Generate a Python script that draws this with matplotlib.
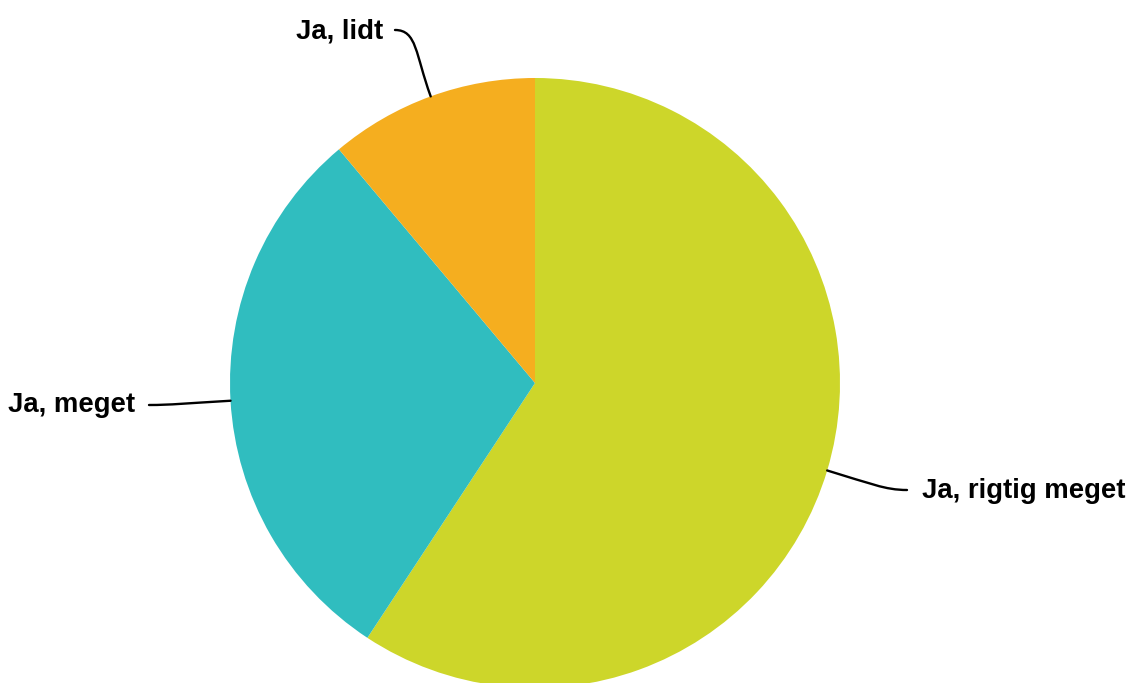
import numpy as np
import matplotlib.pyplot as plt
from matplotlib.path import Path
from matplotlib.patches import PathPatch

labels = ['Ja, rigtig meget', 'Ja, meget', 'Ja, lidt']
counts = [16, 8, 3]
colors = ['#CDD62A', '#30BDBF', '#F5AE1F']

# label anchor (x, baseline y) in pixel coords, y measured from the bottom
label_pos = [(922, 184.5), (135, 270.5), (383, 644.5)]
label_ha = ['left', 'right', 'right']
line_end = [(907, 193), (149, 278), (395, 653)]

W, H = 1129, 683
center = (535, 300)
radius = 305

plt.rcParams['font.family'] = ['Liberation Sans', 'DejaVu Sans']

fig = plt.figure(figsize=(W / 100, H / 100), dpi=100)
ax = fig.add_axes([0, 0, 1, 1])
wedges, _ = ax.pie(counts, colors=colors, startangle=90, counterclock=False,
                   center=center, radius=radius, frame=True,
                   wedgeprops=dict(linewidth=0))
ax.set_xlim(0, W)
ax.set_ylim(0, H)
ax.set_aspect('equal')
ax.axis('off')

for w, lab, pos, ha, end in zip(wedges, labels, label_pos, label_ha, line_end):
    mid = np.deg2rad((w.theta1 + w.theta2) / 2)
    d = np.array([np.cos(mid), np.sin(mid)])
    p0 = np.array(center) + radius * d
    p1 = p0 + 45 * d
    sign = 1 if ha == 'left' else -1
    p3 = np.array(end, dtype=float)
    p2 = p3 - sign * np.array([22, 0])
    path = Path([p0, p1, p2, p3], [Path.MOVETO, Path.CURVE4, Path.CURVE4, Path.CURVE4])
    ax.add_patch(PathPatch(path, fc='none', ec='black', lw=1.7, capstyle='round'))
    ax.text(pos[0], pos[1], lab, ha=ha, va='baseline', fontsize=19.8,
            fontweight='bold', color='black')

fig.savefig('out.png', dpi=100)
